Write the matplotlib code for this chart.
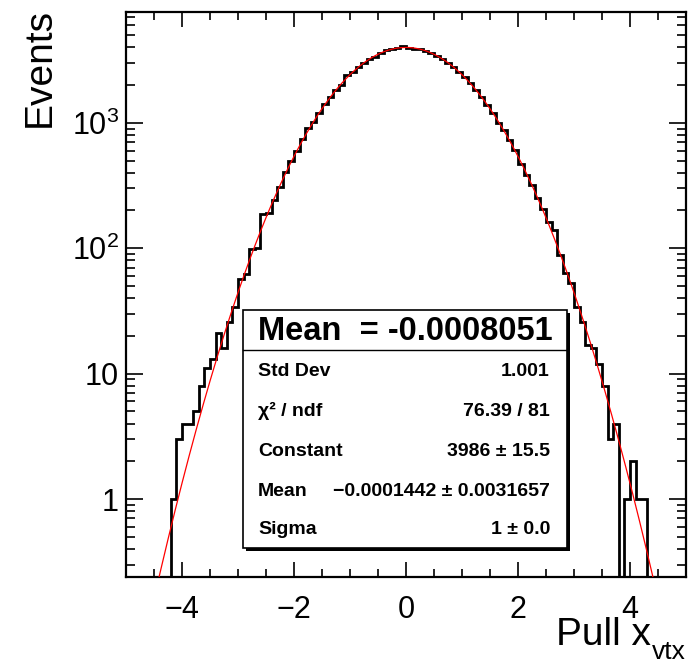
import numpy as np
import matplotlib
matplotlib.use("Agg")
import matplotlib.pyplot as plt
from matplotlib.patches import Rectangle
from matplotlib.ticker import MultipleLocator, LogLocator, FixedLocator, FixedFormatter, NullFormatter

plt.rcParams['font.family'] = ['Liberation Sans', 'DejaVu Sans']
plt.rcParams['mathtext.fontset'] = 'custom'
plt.rcParams['mathtext.rm'] = 'Liberation Sans'
plt.rcParams['mathtext.it'] = 'Liberation Sans:italic'

# histogram: 100 bins from -5 to 5
x_lo, x_hi, n_bins = -5.0, 5.0, 100
counts = [
    # -5.0 .. -4.3
    0, 0, 0, 0, 0, 0, 0, 0,
    # -4.2 .. -3.3
    1, 3, 4, 4, 5, 8, 11, 13, 21, 16,
    # -3.2 .. -2.3
    26, 34, 57, 62, 98, 100, 186, 190, 243, 310,
    # -2.2 .. -1.3
    405, 500, 600, 745, 915, 1020, 1195, 1420, 1610, 1840,
    # -1.2 .. -0.3
    2010, 2390, 2550, 2790, 2985, 3210, 3370, 3580, 3800, 3850,
    # -0.2 .. 0.7
    3930, 4080, 3930, 3860, 3850, 3760, 3610, 3420, 3240, 2990,
    # 0.8 .. 1.7
    2790, 2520, 2300, 2070, 1810, 1610, 1380, 1200, 995, 875,
    # 1.8 .. 2.7
    730, 605, 465, 385, 318, 250, 207, 162, 140, 88,
    # 2.8 .. 3.7
    63, 53, 34, 26, 17, 16, 12, 8, 3, 4,
    # 3.8 .. 4.9
    0, 1, 2, 1, 1, 0, 0, 0, 0, 0, 0, 0,
]

# gaussian fit parameters (from stats box)
fit_const = 3986.0
fit_mean = -0.0001442
fit_sigma = 1.0

stats_header = "Mean  = -0.0008051"
stats_rows = [
    ("Std Dev", "1.001"),
    ("χ² / ndf", "76.39 / 81"),
    ("Constant", "3986 ± 15.5"),
    ("Mean", "−0.0001442 ± 0.0031657"),
    ("Sigma", "1 ± 0.0"),
]

W, H = 689, 665
fig = plt.figure(figsize=(W / 100, H / 100), dpi=100)

def fx(px):
    return px / W

def fy(py):
    return 1 - py / H

ax = fig.add_axes([fx(126), fy(577), fx(686) - fx(126), fy(12) - fy(577)])

edges = np.linspace(x_lo, x_hi, n_bins + 1)
vals = np.array(counts, dtype=float)
draw_vals = np.where(vals > 0, vals, 1e-3)
ax.stairs(draw_vals, edges, color='black', lw=2.0, baseline=None, zorder=2)

xf = np.linspace(x_lo, x_hi, 400)
yf = fit_const * np.exp(-0.5 * ((xf - fit_mean) / fit_sigma) ** 2)
ax.plot(xf, yf, color='red', lw=0.9, zorder=3)

ax.set_yscale('log')
ax.set_xlim(x_lo, x_hi)
ax.set_ylim(0.239, 7640)

ax.xaxis.set_major_locator(MultipleLocator(2))
ax.xaxis.set_minor_locator(MultipleLocator(0.5))
ax.xaxis.set_major_formatter(matplotlib.ticker.FuncFormatter(
    lambda v, p: ("−%d" % abs(v)) if v < 0 else "%d" % v))

ax.yaxis.set_major_locator(FixedLocator([1, 10, 100, 1000]))
ax.yaxis.set_major_formatter(FixedFormatter(["1", "10", "$10^{2}$", "$10^{3}$"]))
ax.yaxis.set_minor_locator(LogLocator(base=10, subs=np.arange(2, 10), numticks=20))
ax.yaxis.set_minor_formatter(NullFormatter())

ax.tick_params(which='both', direction='in', top=True, right=True, width=1.2)
ax.tick_params(axis='x', which='major', length=11, labelsize=22, pad=13)
ax.tick_params(axis='x', which='minor', length=5.5)
ax.tick_params(axis='y', which='major', length=12, labelsize=22, pad=5)
ax.tick_params(axis='y', which='minor', length=6.5)
for sp in ax.spines.values():
    sp.set_linewidth(1.6)

fig.text(fx(40), fy(8), "Events", rotation=90, ha='center', va='top', fontsize=28)
fig.text(fx(651), fy(645), "Pull x", ha='right', va='baseline', fontsize=28)
fig.text(fx(652), fy(659), "vtx", ha='left', va='baseline', fontsize=19)

# stats box
bl, br, bt, bb = 243, 567, 310, 548
fig.patches.append(Rectangle((fx(bl + 3), fy(bb + 3)), fx(br) - fx(bl), fy(bt) - fy(bb),
                             transform=fig.transFigure, facecolor='black', edgecolor='none', zorder=5))
fig.patches.append(Rectangle((fx(bl), fy(bb)), fx(br) - fx(bl), fy(bt) - fy(bb),
                             transform=fig.transFigure, facecolor='white', edgecolor='black',
                             lw=1.2, zorder=6))
fig.lines.append(plt.Line2D([fx(bl), fx(br)], [fy(350), fy(350)], transform=fig.transFigure,
                            color='black', lw=1.0, zorder=7))
fig.text(fx(405), fy(331), stats_header, ha='center', va='center', fontsize=23.5,
         fontweight='bold', zorder=8)
row_y = [372, 411, 451, 491, 530]
for (lab, val), ry in zip(stats_rows, row_y):
    fig.text(fx(258), fy(ry), lab, ha='left', va='center', fontsize=14, fontweight='bold', zorder=8)
    fig.text(fx(550), fy(ry), val, ha='right', va='center', fontsize=14, fontweight='bold', zorder=8)

fig.savefig("out.png", dpi=100)
